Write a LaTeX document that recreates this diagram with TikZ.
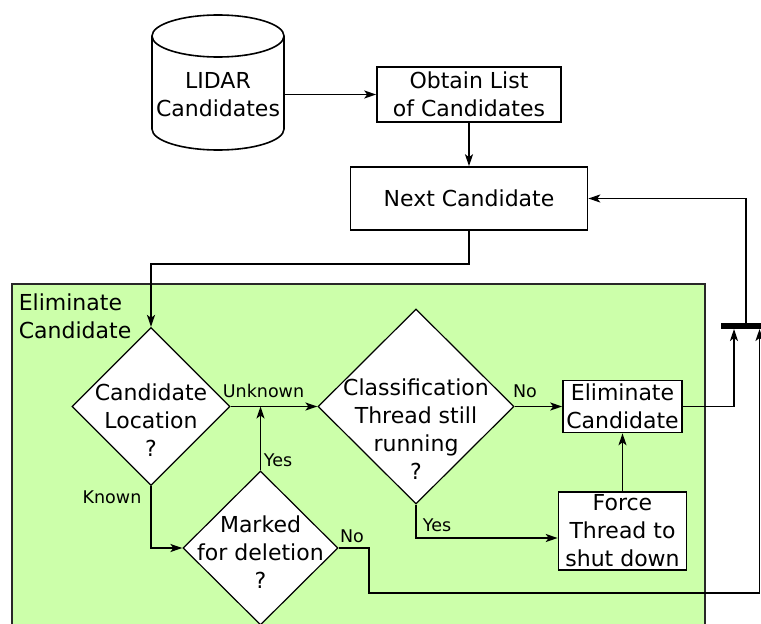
\documentclass[tikz,border=0pt]{standalone}
\usepackage{fontspec}
\setmainfont{DejaVu Sans}
\usetikzlibrary{shapes.geometric,arrows.meta}
\definecolor{groupgreen}{RGB}{204,255,170}
\definecolor{groupedge}{RGB}{40,40,40}
\begin{document}
\begin{tikzpicture}[x=1pt,y=-1pt,
  line width=1.6pt,
  big/.style={font=\fontsize{22}{28}\selectfont, align=center, inner sep=0pt},
  small/.style={font=\fontsize{17.5}{20}\selectfont, inner sep=0pt},
  procbox/.style={draw, fill=white, inner sep=0pt, align=center, font=\fontsize{22}{28}\selectfont},
  decision/.style={draw, fill=white, shape=diamond, inner sep=0pt, line width=1.2pt},
  flow/.style={-{Stealth[length=12pt,width=8pt,inset=3pt]}},
]
\useasboundingbox (0,0) rectangle (761,624);
\clip (0,0) rectangle (761,624);

% group area
\draw[fill=groupgreen, draw=groupedge, line width=1.3pt] (12,284) rectangle (705,660);
\node[big, align=left, anchor=west] (grouplabel) at (18,316) {Eliminate\\Candidate};

% database cylinder
\draw[fill=white] (152,36) -- (152,129) arc (180:360:66pt and 21pt) -- (284,36) arc (0:180:66pt and 21pt) -- cycle;
\draw (152,36) arc (180:360:66pt and 21pt);
\node[big, minimum width=132] (lidar) at (218,94.5) {LIDAR\\Candidates};

% process boxes
\node[procbox, minimum width=184, minimum height=55] (obtain) at (469,94.5) {Obtain List\\of Candidates};
\node[procbox, minimum width=237, minimum height=63] (next) at (469,198.5) {Next Candidate};
\node[procbox, minimum width=119, minimum height=52] (elim) at (622.5,406.5) {Eliminate\\Candidate};
\node[procbox, minimum width=128, minimum height=78] (force) at (622.5,531) {Force\\Thread to\\shut down};

% decisions
\node[decision, minimum width=158, minimum height=158] (loc) at (151,406.5) {};
\node[big] (loctext) at (151,420) {Candidate\\Location\\?};
\node[decision, minimum width=196, minimum height=195] (thread) at (416,406.5) {};
\node[big] (threadtext) at (416,429) {Classification\\Thread still\\running\\?};
\node[decision, minimum width=155, minimum height=154] (marked) at (260.5,548) {};
\node[big] (markedtext) at (260.5,552) {Marked\\for deletion\\?};

% join bar
\node[fill=black, minimum width=50, minimum height=6, inner sep=0pt, outer sep=0pt, anchor=west] (bar) at (721,326) {};

% connectors
\draw[flow] (lidar.east) -- (obtain.west);
\draw[flow] (obtain.south) -- (next.north);
\draw[flow] (next.south) -- ++(0,33) -| (loc.north);
\draw[flow] (loc.east) -- (thread.west);
\draw[flow] (marked.north) -- (marked.north |- loc.east);
\draw[flow] (loc.south) |- (marked.west);
\draw[flow] (thread.east) -- (elim.west);
\draw[flow] (thread.south) |- ([yshift=-7pt]force.west);
\draw[flow] (force.north) -- (elim.south);
\draw[flow] (elim.east) -| ([xshift=13pt]bar.south west);
\coordinate (noturn) at (369,593);
\draw[flow] (marked.east) -| (noturn) -| ([xshift=38.5pt]bar.south west);
\draw[flow] ([xshift=25pt]bar.north west) |- (next.east);

% branch labels
\node[small] (lunknown) at (263.5,391) {Unknown};
\node[small] (lknown) at (112,497) {Known};
\node[small] (lyes1) at (278,460) {Yes};
\node[small] (lno1) at (525,391) {No};
\node[small] (lyes2) at (437,525) {Yes};
\node[small] (lno2) at (352,536) {No};
\end{tikzpicture}
\end{document}
